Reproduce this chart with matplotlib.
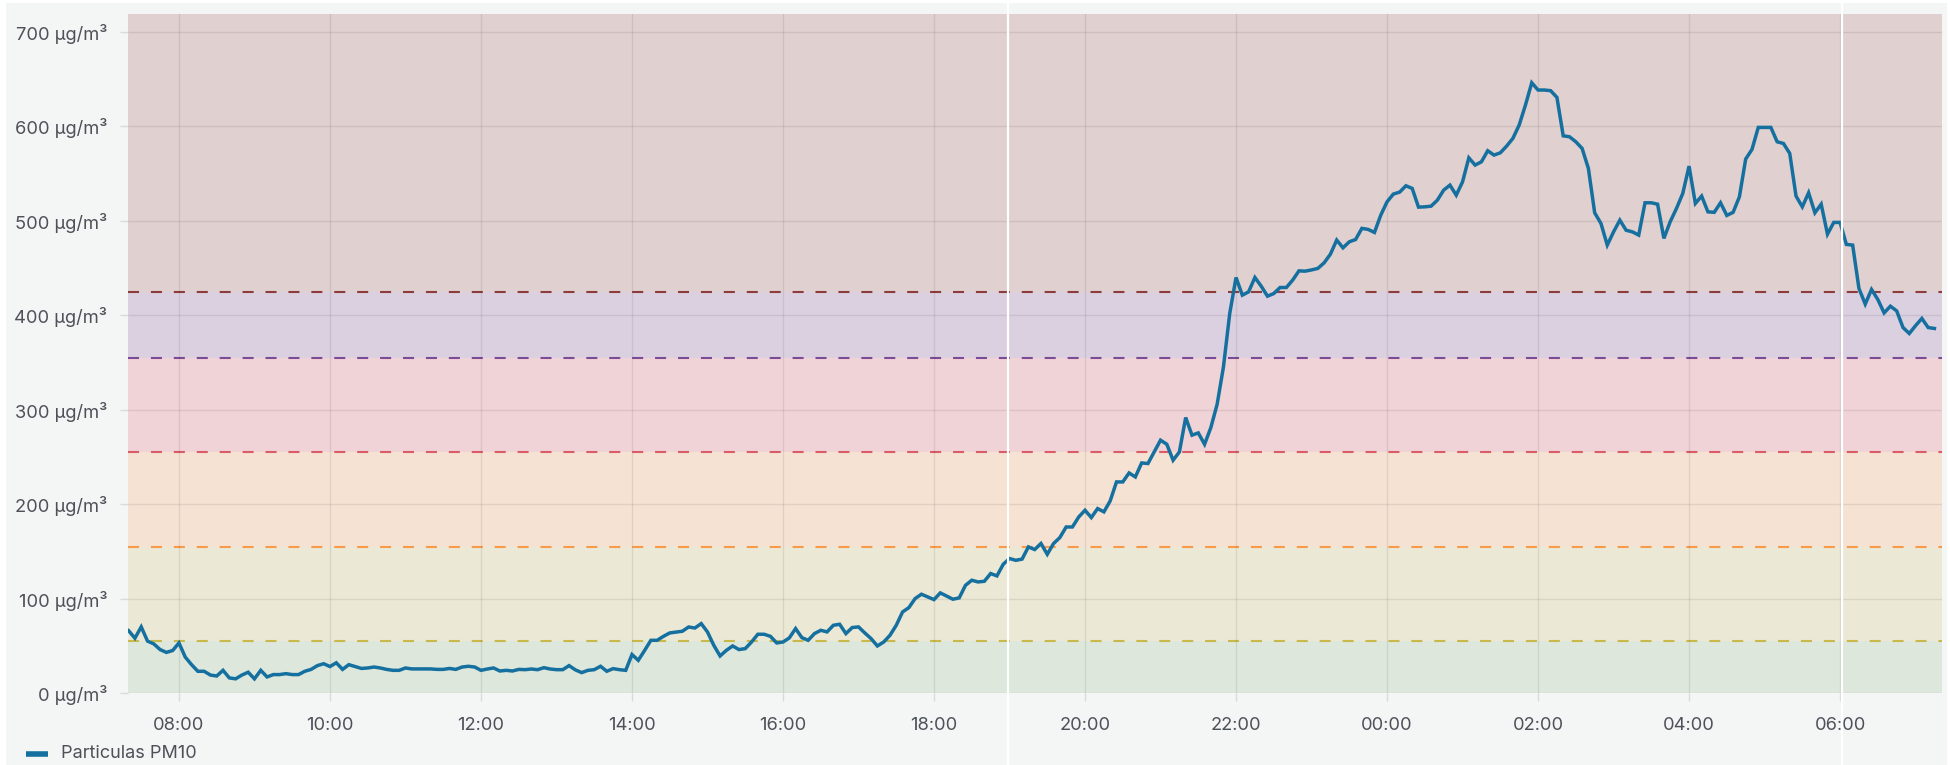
import matplotlib
matplotlib.use("Agg")
import matplotlib.pyplot as plt
import matplotlib.dates as mdates
import pandas as pd
from matplotlib.lines import Line2D
from matplotlib.patches import Rectangle

plt.rcParams['font.family'] = ['Inter', 'DejaVu Sans']

# ---------------- data ----------------
series_name = "Particulas PM10"
start_time = "2024-01-01 07:20"
# 5-minute readings, one row per clock hour (first row starts 07:20, last ends 07:15 next day)
row_0700 = [66, 58, 70, 55, 52, 46, 43, 45]
row_0800 = [53, 38, 30, 23, 23, 19, 18, 24, 16, 15, 19, 22]
row_0900 = [15, 24, 17, 19.5, 19.5, 20.5, 19.5, 19.5, 23, 25, 29, 31]
row_1000 = [28, 32, 25, 30, 28, 26, 26.5, 27.5, 26.5, 25, 24, 24]
row_1100 = [26.5, 25.5, 25.5, 25.5, 25.5, 25, 25, 26, 25, 27.5, 28.3, 27.5]
row_1200 = [24, 25.4, 26.5, 23.3, 24, 23.3, 25, 24.7, 25.4, 24.7, 26.8, 25.4]
row_1300 = [24.7, 24.7, 29, 24.5, 21.6, 24, 24.7, 28.3, 23, 25.8, 24.7, 24]
row_1400 = [40.7, 34.6, 45, 55.8, 55.8, 60, 63.6, 64.5, 65.4, 69.9, 68.8, 73.5]
row_1500 = [64.6, 50.5, 39.2, 45.2, 49.8, 46, 47, 54, 62.2, 62.2, 60, 53]
row_1600 = [54, 58.3, 68.2, 58.6, 55.8, 62.9, 66.4, 64.7, 71.7, 72.8, 62.9, 69.3]
row_1700 = [70, 63.6, 57.6, 49.8, 54, 61.1, 71.7, 85.8, 90.4, 100, 104.6, 101.7]
row_1800 = [98.9, 106, 102.7, 99.3, 100.7, 114, 119.4, 117.6, 118.3, 126.5, 124, 136.3]
row_1900 = [142.4, 140.5, 141.8, 154.7, 151.9, 158.3, 146.9, 158.3, 164.6, 175.8, 175.8, 186.4]
row_2000 = [193.5, 185.8, 195.3, 191.8, 203.4, 223.5, 223.5, 233, 228.8, 243.6, 243, 255.3]
row_2100 = [267.7, 263.4, 246.5, 255.3, 291.7, 273, 275.4, 263.4, 281.1, 305.8, 345.3, 401.9]
row_2200 = [440, 421.3, 424.8, 440, 430.8, 420.2, 423, 429.4, 429.4, 437.2, 447, 446.7]
row_2300 = [448, 449.6, 455.5, 464.7, 479.6, 471.4, 477.8, 480.2, 492, 490.9, 487.7, 506]
row_0000 = [520.1, 528.3, 530.4, 537.1, 534.3, 514.5, 514.8, 515.5, 521.9, 532.5, 537.8, 527.2]
row_0100 = [541.3, 566.7, 559, 562.5, 574.2, 569.6, 572, 579.1, 587.3, 601.4, 622.6, 646.2]
row_0200 = [638.5, 638.5, 637.8, 630.7, 590, 589, 583.7, 576.7, 555.5, 508.5, 497.2, 474.3]
row_0300 = [488.3, 500.7, 490, 488.3, 484.9, 519.1, 519.1, 517.6, 481.4, 499, 513.1, 529]
row_0400 = [557.9, 518.4, 526.2, 509.5, 509, 519.1, 505.7, 509, 525.4, 565.4, 575.6, 598.9]
row_0500 = [598.9, 598.9, 583.7, 581.9, 571.4, 526.2, 514.8, 529.7, 508.5, 517.6, 485.9, 498.3]
row_0600 = [498.3, 475, 474.3, 428.4, 411.8, 427.3, 416.7, 402.5, 409.6, 404.6, 387, 380.7]
row_0700b = [389, 396.6, 387, 386]

rows = [row_0700, row_0800, row_0900, row_1000, row_1100, row_1200, row_1300,
        row_1400, row_1500, row_1600, row_1700, row_1800, row_1900, row_2000,
        row_2100, row_2200, row_2300, row_0000, row_0100, row_0200, row_0300,
        row_0400, row_0500, row_0600, row_0700b]
pm10_values = [v for r in rows for v in r]
times = pd.date_range(start_time, periods=len(pm10_values), freq="5min")

thresholds = [55, 155, 255, 355, 425]
band_colors = ["#dde7dc", "#ebe8d5", "#f5e2d2", "#efd3d7", "#dbd0e0", "#e0d0d0"]
threshold_colors = ["#c9b94a", "#f79a4a", "#d95c66", "#7d4a96", "#8e3b3b"]
y_ticks = [0, 100, 200, 300, 400, 500, 600, 700]
y_tick_labels = [f"{v} µg/m³" for v in y_ticks]

x_start = pd.Timestamp("2024-01-01 07:19:30")
x_end = pd.Timestamp("2024-01-02 07:21:00")
y_max = 719

# ---------------- figure ----------------
W, H = 1950, 765
fig = plt.figure(figsize=(W / 100, H / 100), dpi=100, facecolor="white")
fig.patches.append(Rectangle((6 / W, 0), (1947 - 6) / W, 1 - 3 / H,
                             transform=fig.transFigure, facecolor="#f4f5f5",
                             edgecolor="none", zorder=-10))

ax = fig.add_axes([128 / W, 1 - 693 / H, (1942 - 128) / W, (693 - 14) / H])
ax.set_facecolor("none")
for s in ax.spines.values():
    s.set_visible(False)

bounds = [0] + thresholds + [y_max]
for i, c in enumerate(band_colors):
    ax.axhspan(bounds[i], bounds[i + 1], color=c, zorder=0, lw=0)

ax.grid(True, color="#000000", alpha=0.08, lw=1.0, zorder=1)
ax.set_axisbelow(False)

for t, c in zip(thresholds, threshold_colors):
    ln = ax.axhline(t, color=c, lw=1.5, zorder=2)
    ln.set_dashes((5.3, 5.7))

ax.plot(times, pm10_values, color="#15709f", lw=2.5, zorder=3, solid_joinstyle="miter")

ax.set_xlim(x_start, x_end)
ax.set_ylim(0, y_max)
ax.set_yticks(y_ticks)
ax.set_yticklabels(y_tick_labels)
ax.xaxis.set_major_locator(mdates.HourLocator(byhour=range(0, 24, 2)))
ax.xaxis.set_major_formatter(mdates.DateFormatter("%H:%M"))
ax.tick_params(axis="both", colors="#d8dadb", labelcolor="#4d5258", labelsize=13.2,
               length=6, width=1)
ax.tick_params(axis="x", pad=11)
ax.tick_params(axis="y", pad=9)

# white separator lines
for xp in (1008, 1842):
    fig.add_artist(Line2D([xp / W, xp / W], [0, 1 - 3 / H], transform=fig.transFigure,
                          color="white", lw=1.6, zorder=20))

# legend
fig.add_artist(Line2D([26 / W, 48 / W], [1 - 754 / H, 1 - 754 / H], transform=fig.transFigure,
                      color="#15709f", lw=4, solid_capstyle="butt"))
fig.text(61 / W, 1 - 754 / H, series_name, ha="left", va="center", fontsize=13, color="#4d5258")

fig.savefig("out.png", dpi=100, facecolor="white")
